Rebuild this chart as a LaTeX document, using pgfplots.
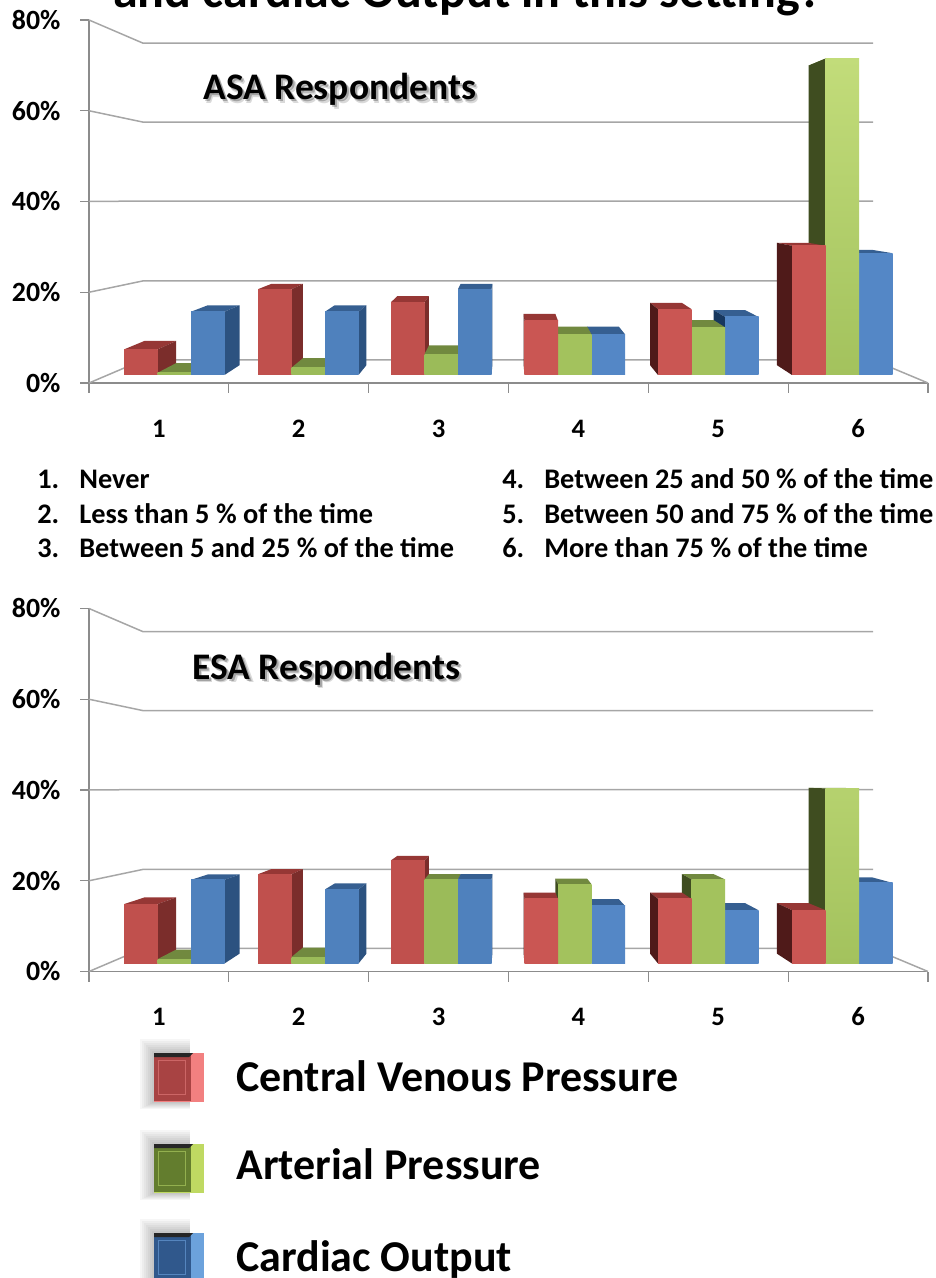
\documentclass[border=0pt]{standalone}
\usepackage{fontspec}
\setmainfont{Carlito}
\usepackage{pgfplots}
\pgfplotsset{compat=1.18}

\definecolor{redF}{HTML}{C0504D}\definecolor{redT}{HTML}{963735}\definecolor{redS}{HTML}{7B2D2B}\definecolor{redL}{HTML}{4F1A19}\definecolor{redF2}{HTML}{CA5653}
\definecolor{grnF}{HTML}{9BBB59}\definecolor{grnT}{HTML}{71893F}\definecolor{grnS}{HTML}{5F7530}\definecolor{grnL}{HTML}{3F4D20}\definecolor{grnF2}{HTML}{A3C25D}\definecolor{grnH}{HTML}{C2DC7A}
\definecolor{bluF}{HTML}{4F81BD}\definecolor{bluT}{HTML}{365F91}\definecolor{bluS}{HTML}{2C5280}\definecolor{bluL}{HTML}{17375E}\definecolor{bluF2}{HTML}{5487C6}
\definecolor{gridc}{HTML}{A6A6A6}\definecolor{axisc}{HTML}{8C8C8C}
\definecolor{swR}{HTML}{F28080}\definecolor{swRm}{HTML}{A84343}\definecolor{swRi}{HTML}{CC6666}
\definecolor{swG}{HTML}{BFD962}\definecolor{swGm}{HTML}{637D2E}\definecolor{swGi}{HTML}{93B04F}
\definecolor{swB}{HTML}{6CA2DC}\definecolor{swBm}{HTML}{30588C}\definecolor{swBi}{HTML}{5585BE}

% one bar in perspective: left edge (px), value, front colours (top, bottom), top colour, side colour
\newcommand{\dbar}[6]{%
  \pgfmathsetmacro\xa{#1}\pgfmathsetmacro\xb{#1+33.5}%
  \pgfmathsetmacro\ft{375-4.335*#2}%
  \pgfmathsetmacro\xaB{\xa+0.053*(508-\xa)}\pgfmathsetmacro\xbB{\xb+0.053*(508-\xb)}%
  \pgfmathsetmacro\ftB{\ft+0.053*(190-\ft)}%
  \pgfmathsetmacro\XA{0.5+(\xa-89)/139.83}\pgfmathsetmacro\XB{0.5+(\xb-89)/139.83}%
  \pgfmathsetmacro\XAB{0.5+(\xaB-89)/139.83}\pgfmathsetmacro\XBB{0.5+(\xbB-89)/139.83}%
  \pgfmathsetmacro\YB{(383-375)/4.5375}\pgfmathsetmacro\YBB{(383-365.2)/4.5375}%
  \pgfmathsetmacro\YT{(383-\ft)/4.5375}\pgfmathsetmacro\YTB{(383-\ftB)/4.5375}%
  \addplot[draw=none,fill=#5,forget plot] coordinates {(\XA,\YT) (\XB,\YT) (\XBB,\YTB) (\XAB,\YTB) (\XA,\YT)};
  \pgfmathparse{\xb<508?1:0}%
  \ifnum\pgfmathresult=1
    \addplot[draw=none,fill=#6,forget plot] coordinates {(\XB,\YB) (\XBB,\YBB) (\XBB,\YTB) (\XB,\YT) (\XB,\YB)};
  \else
    \addplot[draw=none,fill=#6,forget plot] coordinates {(\XA,\YB) (\XAB,\YBB) (\XAB,\YTB) (\XA,\YT) (\XA,\YB)};
  \fi
  \addplot[draw=none,top color=#3,bottom color=#4,forget plot] coordinates {(\XA,\YB) (\XB,\YB) (\XB,\YT) (\XA,\YT) (\XA,\YB)};
}
% left of the vanishing point: drawn left to right, right sides show
\newcommand{\groupL}[4]{%
  \dbar{#1}{#2}{redF}{redF}{redT}{redS}
  \dbar{#1+33.5}{#3}{grnF}{grnF}{grnT}{grnS}
  \dbar{#1+67}{#4}{bluF}{bluF}{bluT}{bluS}
}
% right of it: drawn right to left, left sides show
\newcommand{\groupR}[5]{%
  \dbar{#1+67}{#4}{bluF2}{bluF2}{bluT}{bluL}
  \dbar{#1+33.5}{#3}{#5}{grnF2}{grnT}{grnL}
  \dbar{#1}{#2}{redF2}{redF2}{redT}{redL}
}

\pgfplotsset{
  walls/.style={
    scale only axis, width=503.4pt, height=217.8pt,
    anchor=south west,
    xmin=0.5, xmax=6.5, ymin=0, ymax=80,
    clip=false,
    axis x line=bottom, axis y line=left,
    axis line style={draw=axisc,line width=0.8pt,-},
    xtick={1,2,3,4,5,6},
    minor xtick={0.5,1.5,2.5,3.5,4.5,5.5,6.5},
    ytick={0,20,40,60,80},
    tick align=outside,
    major x tick style={draw=none},
    minor x tick style={draw=axisc,line width=0.7pt},
    minor tick length=6pt,
    major y tick style={draw=axisc,line width=0.7pt},
    major tick length=5.4pt,
    tick label style={font=\fontsize{16.7}{16.7}\selectfont\bfseries},
    /pgf/number format/assume math mode=true,
    yticklabel={\pgfmathprintnumber{\tick}\%},
    yticklabel style={xshift=-8.2pt},
    xticklabel style={yshift=-13.5pt,font=\fontsize{16}{16}\selectfont\bfseries,text height=10pt,text depth=0pt},
  },
}
\newcommand{\backwall}{%
  \addplot[gridc,line width=0.9pt,forget plot] coordinates {(0.5,80) (0.886,74.9) (6.107,74.9)};
  \addplot[gridc,line width=0.9pt,forget plot] coordinates {(0.5,60) (0.886,57.5) (6.107,57.5)};
  \addplot[gridc,line width=0.9pt,forget plot] coordinates {(0.5,40) (0.886,40.1) (6.107,40.1)};
  \addplot[gridc,line width=0.9pt,forget plot] coordinates {(0.5,20) (0.886,22.5) (6.107,22.5)};
  \addplot[gridc,line width=0.9pt,forget plot] coordinates {(0.5,0) (0.886,5.07) (6.107,5.07) (6.5,0)};
}
% legend swatch in picture pixels: top edge, light, mid, inner line colours
\newcommand{\swatch}[4]{%
  \pgfmathsetmacro\sa{-#1}\pgfmathsetmacro\sb{-#1-49}\pgfmathsetmacro\sc{-#1-4}%
  \pgfmathsetmacro\sd{-#1-7}\pgfmathsetmacro\se{-#1-41}\pgfmathsetmacro\sf{-#1-48}%
  \pgfplotsinvokeforeach{14,12,10,8,6,4,2}{%
    \addplot[draw=none,fill=black,fill opacity=0.035,forget plot] coordinates {(154-##1,\sa+##1) (190,\sa+##1) (190,\sb-##1/2) (154-##1,\sb-##1/2)};
  }
  \addplot[draw=none,fill=#2,forget plot] coordinates {(154,\sa) (204,\sa) (204,\sb) (154,\sb)};
  \addplot[draw=none,fill=#3,forget plot] coordinates {(154,\sa) (191,\sa) (191,\sf) (154,\sf)};
  \addplot[draw=none,fill=black!85,forget plot] coordinates {(154,\sa) (193,\sa) (189,\sc) (154,\sc)};
  \addplot[#4,line width=0.6pt,forget plot] coordinates {(158,\sd) (185,\sd) (185,\se) (158,\se) (158,\sd)};
}

\begin{document}
\begin{tikzpicture}[x=0.6pt,y=-0.6pt]
\path[use as bounding box,clip] (0,0) rectangle (935,1278);

\node[anchor=base,font=\fontsize{30}{30}\selectfont\bfseries] at (468,8) {and cardiac Output in this setting?};

% ASA panel
\begin{axis}[walls,at={(53.4pt,-229.8pt)},xticklabels={1,2,3,4,5,6}]
\backwall
\groupL{124}{5.9}{0.5}{14.6}
\groupL{258}{19.8}{1.7}{14.6}
\groupL{391}{16.8}{4.8}{19.8}
\groupR{524.5}{12.5}{9.4}{9.4}{grnF2}
\groupR{658}{15.2}{11}{13.4}{grnF2}
\groupR{792}{29.8}{73}{28.1}{grnH}
\end{axis}

% ESA panel
\begin{axis}[walls,at={(53.4pt,-582.9pt)},xticklabels={1,2,3,4,5,6}]
\backwall
\groupL{124}{13.7}{1}{19.3}
\groupL{258}{20.6}{1.5}{17.1}
\groupL{391}{23.8}{19.4}{19.4}
\groupR{524.5}{14.9}{18.3}{13.3}{grnF2}
\groupR{658}{14.9}{19.4}{12.3}{grnF2}
\groupR{792}{12.3}{40.4}{18.6}{grnH!60!grnF2}
\end{axis}

% legend swatches, axis in picture pixels
\begin{axis}[hide axis,scale only axis,width=561pt,height=766.8pt,at={(0pt,-766.8pt)},anchor=south west,
  xmin=0,xmax=935,ymin=-1278,ymax=0,clip=true]
\swatch{1053}{swR}{swRm}{swRi}
\swatch{1144}{swG}{swGm}{swGi}
\swatch{1233}{swB}{swBm}{swBi}
\end{axis}

\foreach \dx/\op in {3.5/0.15,2/0.25}{
  \node[anchor=base west,inner sep=0pt,font=\fontsize{22.5}{22.5}\selectfont\bfseries,text=black,opacity=\op] at (203+\dx,100+\dx) {ASA Respondents};
  \node[anchor=base west,inner sep=0pt,font=\fontsize{22.5}{22.5}\selectfont\bfseries,text=black,opacity=\op] at (192+\dx,679+\dx) {ESA Respondents};
}
\node[anchor=base west,inner sep=0pt,font=\fontsize{22.5}{22.5}\selectfont\bfseries] at (203,100) {ASA Respondents};
\node[anchor=base west,inner sep=0pt,font=\fontsize{22.5}{22.5}\selectfont\bfseries] at (192,679) {ESA Respondents};

\foreach \n/\t/\yy in {1./Never/488,2./Less than 5 \% of the time/523,3./Between 5 and 25 \% of the time/557}{
  \node[anchor=base west,font=\fontsize{17}{17}\selectfont\bfseries,inner sep=0pt] at (37,\yy) {\n};
  \node[anchor=base west,font=\fontsize{17}{17}\selectfont\bfseries,inner sep=0pt] at (79,\yy) {\t};
}
\foreach \n/\t/\yy in {4./Between 25 and 50 \% of the time/488,5./Between 50 and 75 \% of the time/523,6./More than 75 \% of the time/557}{
  \node[anchor=base west,font=\fontsize{17}{17}\selectfont\bfseries,inner sep=0pt] at (502,\yy) {\n};
  \node[anchor=base west,font=\fontsize{17}{17}\selectfont\bfseries,inner sep=0pt] at (544,\yy) {\t};
}

\foreach \t/\yy in {Central Venous Pressure/1091,Arterial Pressure/1179,Cardiac Output/1271}{
  \node[anchor=base west,font=\fontsize{26.4}{26.4}\selectfont\bfseries,inner sep=0pt] at (236,\yy) {\t};
}
\end{tikzpicture}
\end{document}
